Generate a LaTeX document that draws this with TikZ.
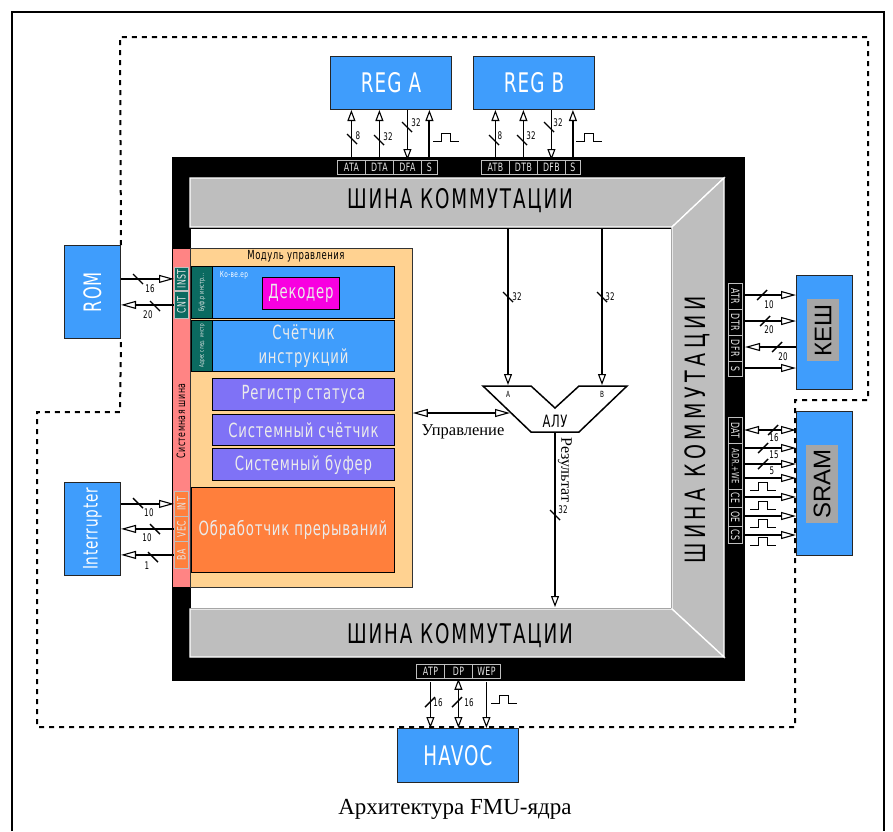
\documentclass[tikz,border=0pt]{standalone}
\usepackage{fontspec}
\setmainfont{Liberation Serif}
\setsansfont{Liberation Sans}
\newfontfamily\gostfont[FakeStretch=0.68,LetterSpace=4]{DejaVu Sans}
\newfontfamily\gostwide[FakeStretch=0.68,LetterSpace=7]{DejaVu Sans}
\newfontfamily\gostbus[FakeStretch=0.68,LetterSpace=16]{DejaVu Sans}
\usetikzlibrary{
  positioning,
  arrows.meta,
  calc
}
\definecolor{boxblue}{HTML}{3F9DFC}
\definecolor{sigteal}{HTML}{0B6A60}
\definecolor{modorange}{HTML}{FFD291}
\definecolor{busgray}{HTML}{BEBEBE}
\definecolor{regpurple}{HTML}{7F72F6}
\definecolor{irqorange}{HTML}{FF7F3C}
\definecolor{syspink}{HTML}{FF8484}
\definecolor{decmagenta}{HTML}{F800E0}
\definecolor{chipgray}{HTML}{A6A6A6}

\begin{document}
\begin{tikzpicture}[
  x=1pt,
  y=-1pt,
  font=\gostfont,
  ext/.style={
    rectangle,
    draw=black!85,
    line width=1pt,
    fill=boxblue,
    text=white,
    inner sep=0pt,
    anchor=north west,
    font=\gostfont\fontsize{27}{27}\selectfont
  },
  inner/.style={
    rectangle,
    draw=black,
    line width=1pt,
    inner sep=0pt,
    anchor=north west,
    text=white!92!black,
    align=center,
    font=\gostfont\fontsize{19.5}{24}\selectfont
  },
  chip/.style={
    rectangle,
    fill=chipgray,
    text=black,
    inner sep=0pt,
    anchor=north west,
    font=\sffamily\fontsize{27}{27}\selectfont
  },
  sig/.style={
    rectangle,
    draw=white!75!black,
    line width=0.8pt,
    fill=black,
    text=white!90!black,
    inner sep=0pt,
    anchor=north west,
    font=\gostfont\fontsize{11.5}{11.5}\selectfont
  },
  num/.style={
    inner sep=0pt,
    font=\gostfont\fontsize{10.5}{10.5}\selectfont
  },
  busname/.style={
    inner sep=0pt,
    font=\gostwide\fontsize{27}{27}\selectfont
  },
  wire/.style={line width=1.5pt},
  arrow/.style={
    wire,
    -{Triangle[open,fill=white,length=11pt,width=8pt,line width=1.1pt]}
  },
  biarrow/.style={
    wire,
    {Triangle[open,fill=white,length=11pt,width=8pt,line width=1.1pt]}-{Triangle[open,fill=white,length=11pt,width=8pt,line width=1.1pt]}
  },
  harrow/.style={
    wire,
    -{Triangle[open,fill=white,length=15pt,width=8pt,line width=1.1pt]}
  },
  bihrrow/.style={
    wire,
    {Triangle[open,fill=white,length=15pt,width=8pt,line width=1.1pt]}-{Triangle[open,fill=white,length=15pt,width=8pt,line width=1.1pt]}
  },
  looppath/.style={line width=2pt, dash pattern=on 5pt off 5pt},
  slashdown/.pic={\draw[line width=1.4pt] (-5,-5) -- (5,5);},
  slashup/.pic={\draw[line width=1.4pt] (-5,5) -- (5,-5);},
  pulse/.pic={\draw[line width=1pt] (0,0) -- (8,0) -- (8,-8) -- (17,-8) -- (17,0) -- (26,0);}
]
\useasboundingbox (0,0) rectangle (893,831);

% Page frame
\draw[line width=1.2pt] (12,831) -- (12,12) -- (884,12) -- (884,831);

% Core frame and buses
\fill[black] (172,157) rectangle (745,681);
\draw[fill=white, line width=0.8pt] (190,228) rectangle (671,608);
\draw[fill=busgray, draw=white, line width=1.3pt] (190,178) -- (724,178) -- (672,227) -- (190,227) -- cycle;
\draw[fill=busgray, draw=white, line width=1.3pt] (724,178) -- (724,657) -- (672,609) -- (672,227) -- cycle;
\draw[fill=busgray, draw=white, line width=1.3pt] (190,609) -- (672,609) -- (724,657) -- (190,657) -- cycle;
\node[busname] (bustop) at (460,201) {ШИНА КОММУТАЦИИ};
\node[busname] (busbot) at (460,636) {ШИНА КОММУТАЦИИ};
\node[busname, rotate=90, font=\gostbus\fontsize{28}{28}\selectfont] (busright) at (697,430) {ШИНА КОММУТАЦИИ};

% External blocks
\node[ext, minimum width=121pt, minimum height=53pt] (rega) at (330,56) {REG A};
\node[ext, minimum width=121pt, minimum height=53pt] (regb) at (473,56) {REG B};
\node[ext, minimum width=121pt, minimum height=54pt] (havoc) at (397,728) {HAVOC};
\node[ext, minimum width=56pt, minimum height=93pt, font=\gostfont\fontsize{24}{24}\selectfont] (rom) at (64,245) {\rotatebox{90}{ROM}};
\node[ext, minimum width=56pt, minimum height=93pt, font=\gostfont\fontsize{20}{20}\selectfont] (irq) at (64,482) {\rotatebox{90}{Interrupter}};
\node[ext, minimum width=56pt, minimum height=114pt] (kesh) at (796,275) {};
\node[ext, minimum width=56pt, minimum height=144pt] (sram) at (796,411) {};
\node[chip, minimum width=32pt, minimum height=62pt] (keshname) at (807,299) {\rotatebox{90}{\fontsize{24}{24}\selectfont КЕШ}};
\node[chip, minimum width=32pt, minimum height=78pt] (sramname) at (806,445) {\rotatebox{90}{\fontsize{24}{24}\selectfont SRAM}};

% Control module
\node[rectangle, draw=black!80, line width=0.8pt, fill=modorange, minimum width=222pt, minimum height=339pt, anchor=north west] (module) at (190,248) {};
\node[font=\gostfont\fontsize{12.5}{12.5}\selectfont, inner sep=0pt] (modname) at (296,256) {Модуль управления};
\node[rectangle, fill=syspink, minimum width=17pt, minimum height=338pt, anchor=north west, inner sep=0pt] (sysbus) at (172.5,249) {};
\node[inner, fill=boxblue, minimum width=182pt, minimum height=52pt] (conv) at (212,266) {};
\node[inner, fill=boxblue, minimum width=182pt, minimum height=51pt] (pc) at (212,320) {Счётчик\\инструкций};
\node[inner, fill=sigteal, minimum width=21pt, minimum height=52pt, font=\gostfont\fontsize{7}{7}\selectfont] (convaddr) at (191,266) {\rotatebox{90}{Буф.р инстр...}};
\node[inner, fill=sigteal, minimum width=21pt, minimum height=51pt, font=\gostfont\fontsize{6}{6}\selectfont] (pcaddr) at (191,320) {\rotatebox{90}{Адрес след. инстр}};
\node[inner, fill=decmagenta, minimum width=77pt, minimum height=32pt] (decoder) at (262,277) {Декодер};
\node[text=white, font=\gostfont\fontsize{8.5}{8.5}\selectfont, inner sep=0pt] (convname) at (234,275) {Ко-ве.ер};
\node[inner, fill=regpurple, minimum width=182pt, minimum height=32pt] (status) at (212,378) {Регистр статуса};
\node[inner, fill=regpurple, minimum width=182pt, minimum height=31pt] (counter) at (212,414) {Системный счётчик};
\node[inner, fill=regpurple, minimum width=182pt, minimum height=32pt] (buffer) at (212,448) {Системный буфер};
\node[inner, fill=irqorange, minimum width=203pt, minimum height=85pt] (handler) at (191,487) {Обработчик прерываний};
\node[font=\gostfont\fontsize{11.5}{11.5}\selectfont, rotate=90, inner sep=0pt] (sysname) at (181,421) {Системная шина};

% Signals on the system bus
\node[sig, fill=sigteal, minimum width=14pt, minimum height=23pt] (inst) at (174,267) {\rotatebox{90}{INST}};
\node[sig, fill=sigteal, minimum width=14pt, minimum height=27pt] (cnt) at (174,291) {\rotatebox{90}{CNT}};
\node[sig, fill=irqorange, minimum width=14pt, minimum height=25pt] (int) at (174,491) {\rotatebox{90}{INT}};
\node[sig, fill=irqorange, minimum width=14pt, minimum height=25pt] (vec) at (174,516) {\rotatebox{90}{VEC}};
\node[sig, fill=irqorange, minimum width=14pt, minimum height=27pt] (ba) at (174,541) {\rotatebox{90}{BA}};

% Signals on the top edge
\node[sig, minimum width=28pt, minimum height=14pt] (ata) at (337,160) {ATA};
\node[sig, minimum width=28pt, minimum height=14pt] (dta) at (365,160) {DTA};
\node[sig, minimum width=28pt, minimum height=14pt] (dfa) at (393,160) {DFA};
\node[sig, minimum width=16pt, minimum height=14pt] (sa) at (421,160) {S};
\node[sig, minimum width=28pt, minimum height=14pt] (atb) at (481,160) {ATB};
\node[sig, minimum width=28pt, minimum height=14pt] (dtb) at (509,160) {DTB};
\node[sig, minimum width=28pt, minimum height=14pt] (dfb) at (537,160) {DFB};
\node[sig, minimum width=15pt, minimum height=14pt] (sb) at (565,160) {S};

% Signals on the right edge
\node[sig, minimum width=14pt, minimum height=26pt] (atr) at (728,283) {\rotatebox{-90}{ATR}};
\node[sig, minimum width=14pt, minimum height=26pt] (dtr) at (728,309) {\rotatebox{-90}{DTR}};
\node[sig, minimum width=14pt, minimum height=26pt] (dfr) at (728,335) {\rotatebox{-90}{DFR}};
\node[sig, minimum width=14pt, minimum height=15pt] (sr) at (728,361) {\rotatebox{-90}{S}};
\node[sig, minimum width=14pt, minimum height=26pt] (dat) at (728,417) {\rotatebox{-90}{DAT}};
\node[sig, minimum width=14pt, minimum height=46pt, font=\gostfont\fontsize{10}{10}\selectfont] (adr) at (728,443) {\rotatebox{-90}{ADR.+WE}};
\node[sig, minimum width=14pt, minimum height=18pt] (ce) at (728,489) {\rotatebox{-90}{CE}};
\node[sig, minimum width=14pt, minimum height=19pt] (oe) at (728,507) {\rotatebox{-90}{OE}};
\node[sig, minimum width=14pt, minimum height=17pt] (cs) at (728,526) {\rotatebox{-90}{CS}};

% Signals on the bottom edge
\node[sig, minimum width=28pt, minimum height=14pt] (atp) at (416,664) {ATP};
\node[sig, minimum width=28pt, minimum height=14pt] (dp) at (444,664) {DP};
\node[sig, minimum width=28pt, minimum height=14pt] (wep) at (472,664) {WEP};

% ALU
\coordinate (aluleft) at (483,386);
\coordinate (alumid) at (555,408);
\coordinate (alubot) at (555,432);
\draw[line width=1.5pt] (aluleft) -- (531,386) -- (alumid) -- (579,386) -- (627,386) -- (579,432) -- (531,432) -- cycle;
\node[font=\gostfont\fontsize{17}{17}\selectfont, inner sep=0pt] (aluname) at (555,421) {АЛУ};
\coordinate (inA) at (508,385);
\coordinate (inB) at (602,385);
\coordinate (busAout) at (508,228);
\coordinate (busBout) at (602,228);
\coordinate (ctl) at (510,413);
\coordinate (busBin) at (555,607);
\node[num, font=\gostfont\fontsize{8.5}{8.5}\selectfont] (portA) at (508,394) {A};
\node[num, font=\gostfont\fontsize{8.5}{8.5}\selectfont] (portB) at (602,394) {B};

% Connections
\foreach \sig in {ata,dta,atb,dtb}
  \draw[arrow] (\sig.north) ++(0,-3) -- (\sig.north |- rega.south);
\foreach \sig in {sa,sb}
  \draw[arrow, line width=1.9pt] (\sig.north) ++(0,-3) -- (\sig.north |- rega.south);
\foreach \sig in {dfa,dfb}
  \draw[arrow] (\sig.north |- rega.south) -- (\sig.north);
\foreach \sig in {atp,wep}
  \draw[arrow] (\sig.south) ++(0,3) -- (\sig.south |- havoc.north);
\draw[biarrow] (dp.south) -- (dp.south |- havoc.north);

\draw[harrow, line width=2pt] (rom.east |- inst) -- (inst.west);
\draw[harrow, line width=2pt] (cnt.west) -- (rom.east |- cnt);
\draw[harrow] (irq.east |- int) -- (int.west);
\draw[harrow] (vec.west) -- (irq.east |- vec);
\draw[harrow] (ba.west) -- (irq.east |- ba);

\draw[harrow] (745,295) -- (kesh.west |- 0,295);
\draw[harrow] (745,321) -- (kesh.west |- 0,321);
\draw[harrow] (kesh.west |- 0,347) -- (745,347);
\draw[harrow] (745,368) -- (kesh.west |- 0,368);
\draw[bihrrow] (744,430) -- (sram.west |- 0,430);
\draw[harrow] (745,448) -- (sram.west |- 0,448);
\draw[harrow] (745,464) -- (sram.west |- 0,464);
\draw[harrow] (745,478) -- (sram.west |- 0,478);
\draw[harrow] (745,497) -- (sram.west |- 0,497);
\draw[harrow] (745,516) -- (sram.west |- 0,516);
\draw[harrow] (745,535) -- (sram.west |- 0,535);

\draw[arrow, line width=2pt] (busAout) -- (inA);
\draw[arrow, line width=2pt] (busBout) -- (inB);
\draw[arrow, line width=2pt] (alubot) -- (busBin);
\draw[bihrrow, line width=2pt] (module.east |- ctl) -- (ctl);

% Loop between the blocks
\draw[looppath] (rom.north east) -- (120,37) -- (868,37) -- (868,400) -- (795,400) -- (795,727) -- (37,727) -- (37,412) -- (120,412) -- (rom.south east);

% Bus width marks
\foreach \x/\y in {352/139,379/140,407/127,494/140,522/140,549/127,138/279,155/306,138/503,155/529,153/557,555/515,508/297,602/297}
  \pic at (\x,\y) {slashdown};
\foreach \x/\y in {762/295,765/321,777/347,773/430,763/448,763/464,430/702,457/702}
  \pic at (\x,\y) {slashup};

\node[num] (n1) at (358,136) {8};
\node[num] (n2) at (388,137) {32};
\node[num] (n3) at (416,123) {32};
\node[num] (n4) at (500,136) {8};
\node[num] (n5) at (531,136) {32};
\node[num] (n6) at (558,123) {32};
\node[num] (n7) at (150,289) {16};
\node[num] (n8) at (148,315) {20};
\node[num] (n9) at (149,513) {10};
\node[num] (n10) at (147,538) {10};
\node[num] (n11) at (147,566) {1};
\node[num] (n12) at (769,305) {10};
\node[num] (n13) at (769,330) {20};
\node[num] (n14) at (783,357) {20};
\node[num] (n15) at (774,438) {16};
\node[num] (n16) at (774,455) {15};
\node[num] (n17) at (772,471) {5};
\node[num] (n18) at (438,703) {16};
\node[num] (n19) at (469,703) {16};
\node[num] (n20) at (517,297) {32};
\node[num] (n21) at (610,297) {32};
\node[num] (n22) at (563,510) {32};

% Pulses
\foreach \x/\y in {433/141,576/141,491/703,750/490,750/509,750/527,750/545}
  \pic at (\x,\y) {pulse};

% Serif labels
\node[font=\rmfamily\fontsize{16.5}{16.5}\selectfont, inner sep=0pt] (ctlname) at (463,432) {Управление};
\node[font=\rmfamily\fontsize{16}{16}\selectfont, rotate=-90, inner sep=0pt] (resname) at (565,470) {Результат};
\node[font=\rmfamily\fontsize{23}{23}\selectfont, inner sep=0pt] (caption) at (455,809) {Архитектура FMU-ядра};

\end{tikzpicture}
\end{document}
